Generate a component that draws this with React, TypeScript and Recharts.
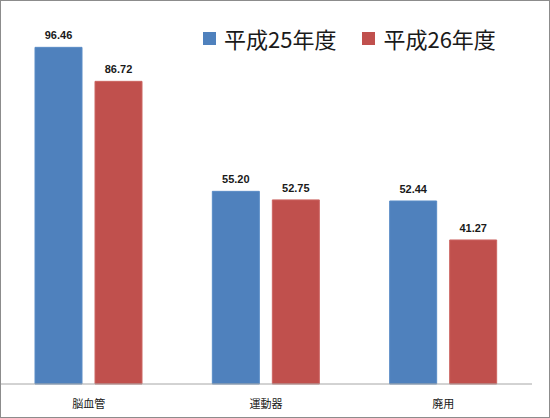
import * as React from 'react';
import { BarChart, Bar, XAxis, YAxis, LabelList } from 'recharts';

// categories and series values
const categories = ['脳血管', '運動器', '廃用'];
const h25 = [96.46, 55.2, 52.44];
const h26 = [86.72, 52.75, 41.27];
const seriesNames = ['平成25年度', '平成26年度'];
const seriesColors = ['#4F81BD', '#C0504D'];

const data = categories.map((name, i) => ({ name, h25: h25[i], h26: h26[i] }));

const JP = '"Noto Sans CJK JP", "Noto Sans", sans-serif';
const labelStyle = { fill: '#1a1a1a', fontSize: 11, fontWeight: 'bold', fontFamily: '"Liberation Sans", Arial, sans-serif' };

const ChartLegend = () => (
  <div
    style={{
      position: 'absolute',
      top: 23,
      left: 203,
      display: 'flex',
      alignItems: 'center',
      fontFamily: JP,
      fontSize: 22,
      lineHeight: '30px',
      color: '#1a1a1a',
      whiteSpace: 'nowrap',
    }}
  >
    {seriesNames.map((n, i) => (
      <div key={n} style={{ display: 'flex', alignItems: 'center', marginRight: i === 0 ? 26 : 0 }}>
        <span style={{ display: 'inline-block', width: 13, height: 13, background: seriesColors[i], marginRight: 8 }} />
        <span>{n}</span>
      </div>
    ))}
  </div>
);

export default function App() {
  return (
    <div style={{ position: 'relative', width: 550, height: 418, background: '#fff' }}>
      <style>{'body{margin:0}'}</style>
      <BarChart
        width={550}
        height={418}
        data={data}
        margin={{ top: 35, right: 18, left: 0, bottom: 0 }}
        barSize={47}
        barGap={13}
      >
        <XAxis
          dataKey="name"
          height={34}
          tickLine={false}
          axisLine={{ stroke: '#a6a6a6', strokeWidth: 1 }}
          tickMargin={10}
          tick={{ fill: '#1a1a1a', fontSize: 11, fontFamily: JP }}
        />
        <YAxis hide domain={[0, 100]} />
        <Bar dataKey="h25" name={seriesNames[0]} fill={seriesColors[0]} stroke="#5a8cc6" isAnimationActive={false}>
          <LabelList dataKey="h25" position="top" offset={8} formatter={(v: any) => Number(v).toFixed(2)} style={labelStyle} />
        </Bar>
        <Bar dataKey="h26" name={seriesNames[1]} fill={seriesColors[1]} stroke="#cc6663" isAnimationActive={false}>
          <LabelList dataKey="h26" position="top" offset={8} formatter={(v: any) => Number(v).toFixed(2)} style={labelStyle} />
        </Bar>
      </BarChart>
      <ChartLegend />
      <div
        style={{
          position: 'absolute',
          top: 0,
          left: 0,
          width: 550,
          height: 418,
          border: '1px solid #8c8c8c',
          boxSizing: 'border-box',
          pointerEvents: 'none',
        }}
      />
    </div>
  );
}
